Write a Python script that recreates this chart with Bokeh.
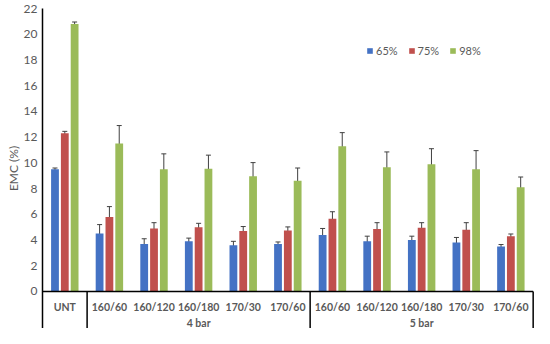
from bokeh.plotting import figure
from bokeh.models import (ColumnDataSource, Range1d, FixedTicker, Whisker, TeeHead,
                          Legend, LegendItem)
from bokeh.core.properties import value
from bokeh.embed import file_html
from bokeh.resources import INLINE

# ---- data ----
categories = ["UNT", "160/60", "160/120", "160/180", "170/30", "170/60",
              "160/60", "160/120", "160/180", "170/30", "170/60"]
groups = ["4 bar", "5 bar"]
group_spans = [(1, 6), (6, 11)]
series = ["65%", "75%", "98%"]
v65 = [9.5, 4.5, 3.7, 3.9, 3.6, 3.7, 4.4, 3.9, 4.0, 3.8, 3.5]
e65 = [0.1, 0.7, 0.4, 0.25, 0.3, 0.15, 0.5, 0.4, 0.3, 0.4, 0.15]
v75 = [12.3, 5.8, 4.9, 5.0, 4.7, 4.75, 5.65, 4.85, 4.95, 4.8, 4.3]
e75 = [0.15, 0.8, 0.45, 0.3, 0.35, 0.27, 0.55, 0.5, 0.4, 0.55, 0.17]
v98 = [20.8, 11.5, 9.5, 9.55, 8.95, 8.6, 11.3, 9.65, 9.9, 9.5, 8.1]
e98 = [0.15, 1.4, 1.2, 1.05, 1.07, 1.0, 1.05, 1.2, 1.2, 1.45, 0.8]
y_ticks = list(range(0, 23, 2))

colors = ["#4472C4", "#C0504D", "#9BBB59"]
offsets = [-0.22, 0.0, 0.22]
bar_w = 0.175
n = len(categories)

Y0, Y1 = -2.877, 22.0
p = figure(width=534, height=328, output_backend="svg", toolbar_location=None,
           x_range=Range1d(0, n + 0.03), y_range=Range1d(Y0, Y1),
           min_border_left=42, min_border_right=0, min_border_top=8, min_border_bottom=0)
p.outline_line_color = None
p.grid.visible = False
p.xaxis.visible = False
p.background_fill_color = "white"

yax = p.yaxis[0]
yax.ticker = FixedTicker(ticks=y_ticks)
yax.major_tick_line_color = None
yax.major_tick_out = 0
yax.major_tick_in = 0
yax.minor_tick_line_color = None
yax.minor_tick_out = 0
yax.minor_tick_in = 0
yax.axis_line_color = "black"
yax.axis_line_width = 1.5
yax.major_label_standoff = 5
yax.major_label_text_font = "Lato"
yax.major_label_text_font_size = "12px"
yax.major_label_text_color = "#595959"
yax.axis_label = "EMC (%)"
yax.axis_label_standoff = 0
yax.axis_label_text_font = "Lato"
yax.axis_label_text_font_size = "12px"
yax.axis_label_text_font_style = "normal"
yax.axis_label_text_color = "#595959"

items = []
for vals, errs, off, col, name in zip([v65, v75, v98], [e65, e75, e98], offsets, colors, series):
    xs = [i + 0.5 + off for i in range(n)]
    src = ColumnDataSource(dict(x=xs, top=vals,
                                lo=[v - e for v, e in zip(vals, errs)],
                                hi=[v + e for v, e in zip(vals, errs)]))
    r = p.vbar(x="x", top="top", width=bar_w, bottom=0, source=src,
               fill_color=col, line_color=None)
    items.append(LegendItem(label=name, renderers=[r]))
    w = Whisker(source=src, base="x", lower="lo", upper="hi", dimension="height",
                line_color="#404040", line_width=1,
                upper_head=TeeHead(size=5, line_color="#404040", line_width=1),
                lower_head=TeeHead(size=5, line_color="#404040", line_width=1))
    p.add_layout(w)

# x axis line and separators
p.segment(x0=[0], y0=[0], x1=[n], y1=[0], line_color="black", line_width=1.5)
sep_x = [1, 6, 11]
p.segment(x0=sep_x, y0=[0] * 3, x1=sep_x, y1=[Y0] * 3, line_color="black", line_width=1.5)

# category labels
p.text(x=[i + 0.5 for i in range(n)], y=[-1.2] * n, text=categories,
       text_font=value("Lato"), text_font_size="10.5px", text_font_style="bold",
       text_align="center", text_baseline="middle", text_color="#595959")
p.text(x=[(a + b) / 2 for a, b in group_spans], y=[-2.47] * 2, text=groups,
       text_font=value("Lato"), text_font_size="10.5px", text_font_style="bold",
       text_align="center", text_baseline="middle", text_color="#595959")

legend = Legend(items=items, orientation="horizontal", location=(324, 271),
                glyph_width=7, glyph_height=7, label_height=12, label_standoff=3,
                spacing=10, padding=0, margin=0, border_line_color=None,
                background_fill_alpha=0, label_text_font="Lato",
                label_text_font_size="11px", label_text_color="#595959")
p.add_layout(legend)

open("out.html", "w").write(file_html(p, INLINE))
